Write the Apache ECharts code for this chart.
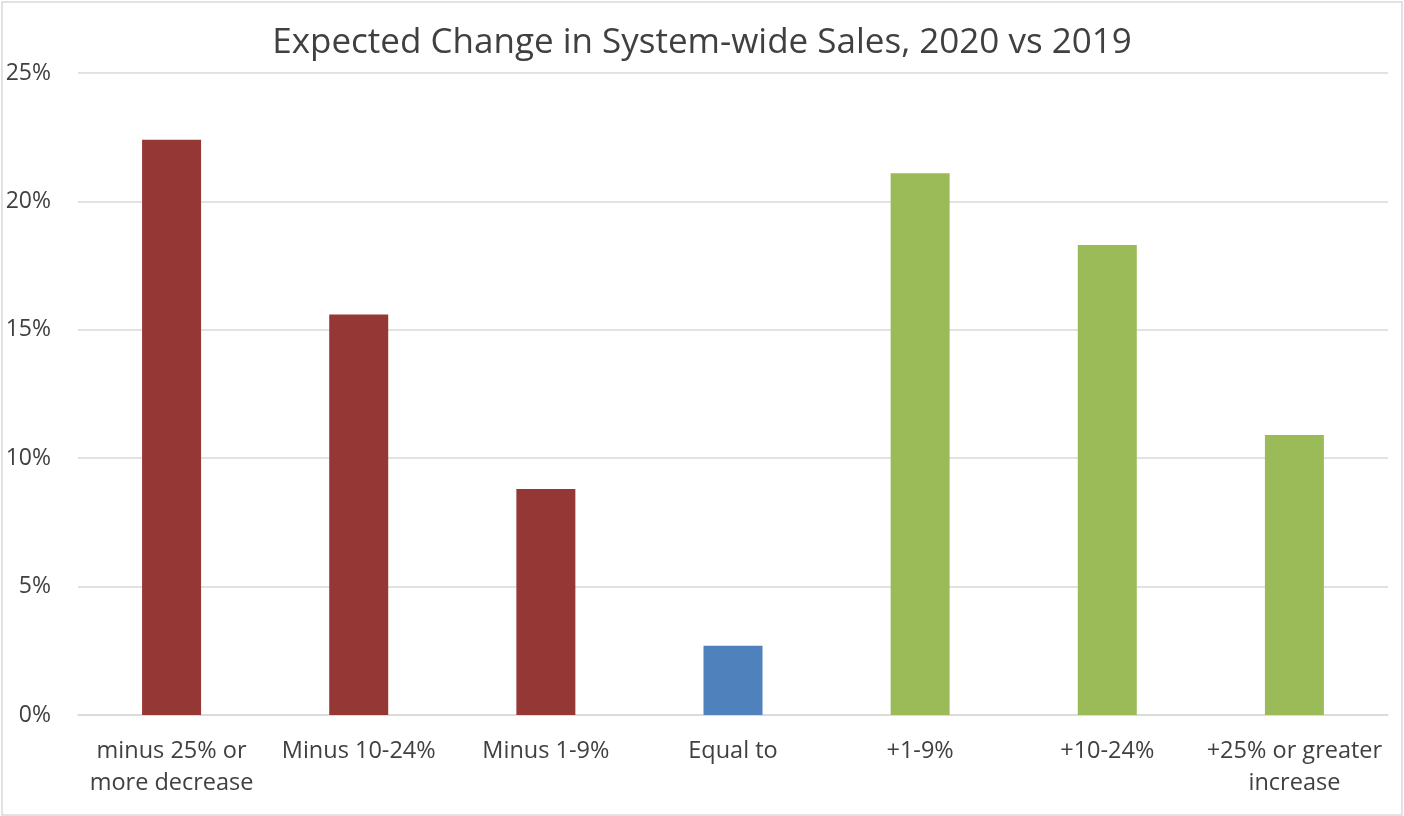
<!DOCTYPE html>
<html>
<head>
<meta charset="utf-8">
<script src="https://cdn.jsdelivr.net/npm/echarts@6/dist/echarts.min.js"></script>
<style>
html,body{margin:0;padding:0;background:#fff;}
#chart{width:1404px;height:816px;}
</style>
</head>
<body>
<div id="chart"></div>
<script>
const categories = ['minus 25% or\nmore decrease', 'Minus 10-24%', 'Minus 1-9%', 'Equal to', '+1-9%', '+10-24%', '+25% or greater\nincrease'];
const values = [22.4, 15.6, 8.8, 2.7, 21.1, 18.3, 10.9];
const direction = ['down', 'down', 'down', 'same', 'up', 'up', 'up'];
const yTicks = [0, 5, 10, 15, 20, 25];

const colorMap = { down: '#953735', same: '#4F81BD', up: '#9BBB59' };
const font = '"Open Sans", "Noto Sans", sans-serif';

const chart = echarts.init(document.getElementById('chart'), null, { renderer: 'canvas' });
chart.setOption({
  backgroundColor: '#ffffff',
  animation: false,
  title: {
    text: 'Expected Change in System-wide Sales, 2020 vs 2019',
    left: 'center',
    top: 21,
    textStyle: { fontFamily: font, fontSize: 35, fontWeight: 'normal', color: '#404040' }
  },
  graphic: [{
    type: 'rect',
    shape: { x: 2, y: 2, width: 1400, height: 813 },
    style: { fill: 'none', stroke: '#d9d9d9', lineWidth: 1.5 },
    silent: true
  }],
  grid: { left: 78, right: 16, top: 73, bottom: 101, containLabel: false },
  xAxis: {
    type: 'category',
    data: categories,
    axisLine: { show: true, lineStyle: { color: '#d9d9d9', width: 1.5 } },
    axisTick: { show: false },
    axisLabel: { fontFamily: font, fontSize: 23.5, color: '#404040', margin: 20, lineHeight: 32, interval: 0 }
  },
  yAxis: {
    type: 'value',
    min: yTicks[0],
    max: yTicks[yTicks.length - 1],
    interval: 5,
    axisLine: { show: false },
    axisTick: { show: false },
    splitLine: { lineStyle: { color: '#d9d9d9', width: 1.5 } },
    axisLabel: { fontFamily: font, fontSize: 23, color: '#404040', margin: 27, formatter: v => v + '%' }
  },
  series: [{
    type: 'bar',
    barWidth: 59,
    data: values.map((v, i) => ({ value: v, itemStyle: { color: colorMap[direction[i]] } }))
  }]
});
</script>
</body>
</html>
